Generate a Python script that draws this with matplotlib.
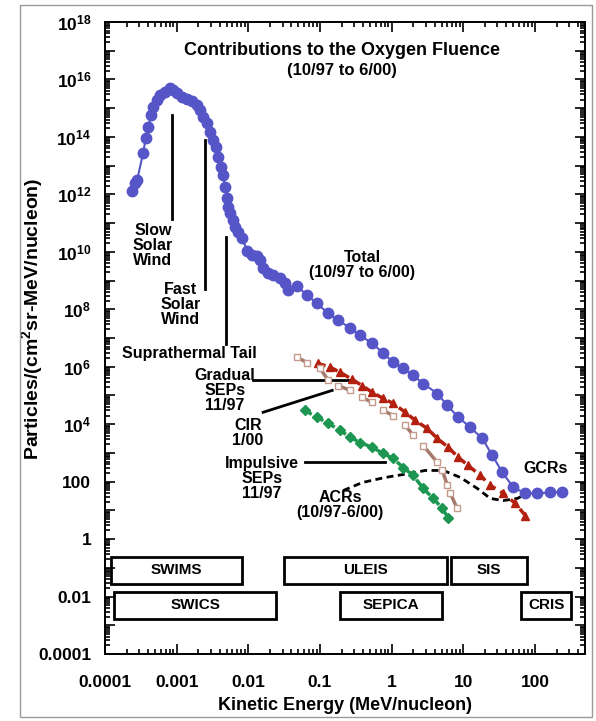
import matplotlib
matplotlib.use('Agg')
import matplotlib.pyplot as plt
from matplotlib.patches import Rectangle
from matplotlib.ticker import LogLocator, NullFormatter

plt.rcParams['font.family'] = ['Liberation Sans', 'DejaVu Sans']
plt.rcParams['font.weight'] = 'bold'
plt.rcParams['mathtext.fontset'] = 'custom'
plt.rcParams['mathtext.rm'] = 'Liberation Sans:bold'
plt.rcParams['mathtext.bf'] = 'Liberation Sans:bold'
plt.rcParams['mathtext.it'] = 'Liberation Sans:bold'

#DATA
total_e = [2.36e-4, 2.62e-4, 2.8e-4, 3.4e-4, 3.7e-4, 4.0e-4, 4.4e-4, 4.7e-4, 5.3e-4, 5.9e-4,
           6.9e-4, 8.1e-4, 8.9e-4, 1.01e-3, 1.19e-3, 1.40e-3, 1.64e-3, 1.93e-3, 2.12e-3, 2.34e-3,
           2.66e-3, 2.93e-3, 3.22e-3, 3.55e-3, 3.79e-3, 4.17e-3, 4.45e-3, 4.74e-3, 5.06e-3, 5.23e-3,
           5.57e-3, 6.13e-3, 6.55e-3, 7.21e-3, 8.2e-3, 9.6e-3, 1.13e-2, 1.33e-2, 1.46e-2, 1.61e-2,
           1.89e-2, 2.22e-2, 2.78e-2, 3.27e-2, 3.60e-2, 4.81e-2, 6.6e-2, 9.1e-2, 0.130, 0.180,
           0.264, 0.364, 0.535, 0.763, 1.05, 1.45, 2.0, 2.76, 4.33, 5.98,
           8.5, 12.5, 18.4, 25.4, 35.1, 49.9, 73.5, 108, 164, 241]
total_f = [1.3e12, 2.5e12, 3.1e12, 2.7e13, 9e13, 2.2e14, 5.8e14, 1.1e15, 1.9e15, 2.9e15,
           3.6e15, 5.0e15, 4.3e15, 3.4e15, 2.5e15, 2.1e15, 1.8e15, 1.3e15, 8.6e14, 4.9e14,
           3.0e14, 1.5e14, 7.8e13, 4.4e13, 2.0e13, 8.9e12, 4.7e12, 1.8e12, 7.4e11, 3.6e11,
           2.2e11, 1.26e11, 7.2e10, 4.8e10, 3.0e10, 1.1e10, 7.6e9, 7.1e9, 5.1e9, 2.7e9,
           1.9e9, 1.5e9, 1.2e9, 8.1e8, 4.6e8, 6.3e8, 3.1e8, 1.6e8, 7.2e7, 4.2e7,
           2.2e7, 1.24e7, 6.5e6, 3.0e6, 1.42e6, 8.7e5, 5.0e5, 2.6e5, 1.17e5, 4.5e4,
           1.75e4, 7.8e3, 3.2e3, 820, 210, 63, 39, 39, 42, 45]

grad_e = [0.0944, 0.139, 0.191, 0.282, 0.388, 0.535, 0.763, 1.05, 1.55, 2.14,
          3.14, 4.33, 6.18, 8.5, 11.7, 17.3, 23.8, 36.2, 53.2, 73.5]
grad_f = [1.3e6, 9.6e5, 6.4e5, 3.6e5, 2.2e5, 1.28e5, 7.9e4, 5.3e4, 2.6e4, 1.35e4,
          7.1e3, 3.2e3, 1.56e3, 700, 365, 165, 74, 39, 17.5, 6.6]

cir_e = [0.048, 0.066, 0.1007, 0.130, 0.180, 0.264, 0.388, 0.535, 0.763,
         1.05, 1.55, 2.0, 2.76, 4.33, 5.1, 6.0, 6.6, 8.2]
cir_f = [2.1e6, 1.4e6, 8.7e5, 3.4e5, 2.2e5, 1.5e5, 8.6e4, 5.7e4, 3.0e4,
         2.0e4, 9.1e3, 4.1e3, 1.8e3, 470, 245, 74, 39, 11.8]

imp_e = [0.062, 0.091, 0.130, 0.191, 0.264, 0.364, 0.535, 0.763, 1.05, 1.45,
         2.0, 2.76, 3.81, 5.1, 6.2]
imp_f = [3.0e4, 1.74e4, 1.07e4, 6.1e3, 3.5e3, 2.3e3, 1.56e3, 960, 640, 310,
         165, 58, 26, 11.7, 5.3]

acr_e = [0.211, 0.388, 0.814, 1.82, 2.94, 5.26, 9.1, 15.7, 23.8, 36.2, 56.7, 73.5]
acr_f = [49, 93, 140, 195, 245, 245, 140, 58, 26, 22, 26, 36]

# instrument energy coverage (MeV/nucleon)
instruments = ['SWIMS', 'SWICS', 'ULEIS', 'SEPICA', 'SIS', 'CRIS']
inst_lo = [1.21e-4, 1.34e-4, 3.16e-2, 0.191, 6.8, 64.6]
inst_hi = [8.2e-3, 2.44e-2, 5.98, 5.1, 78, 322]
inst_row = [0, 1, 0, 1, 0, 1]

BLUE = '#5555c8'
RED = '#b3200f'
GREEN = '#1c9650'
BROWN = '#a47a6c'

#FIGURE
fig = plt.figure(figsize=(5.96, 7.21), dpi=100)
ax = fig.add_axes([0.1762, 0.0929, 0.8054, 0.8766])
ax.set_xscale('log')
ax.set_yscale('log')
ax.set_xlim(1e-4, 500)
ax.set_ylim(1e-4, 1e18)

ax.plot(total_e, total_f, '-', color=BLUE, lw=1.5, marker='o', ms=7.5, mec=BLUE, mfc=BLUE, zorder=5)
ax.plot(grad_e, grad_f, color=RED, lw=2.5, ls=(0, (2.2, 1.6)), marker='^', ms=6, zorder=4)
for i in range(0, len(cir_e) - 1, 2):
    ax.plot(cir_e[i:i + 2], cir_f[i:i + 2], '-', color=BROWN, lw=2.5,
            marker='s', ms=5, mfc='white', mec='#c49a8c', mew=1, zorder=4)
ax.plot(imp_e, imp_f, color=GREEN, lw=2.5, ls=(0, (2.2, 1.6)), marker='D', ms=5, zorder=4)
ax.plot(acr_e, acr_f, color='black', lw=2, ls=(0, (2.5, 1.6)), zorder=3)

# instrument boxes
row_y = [(0.0284, 0.248), (1.71e-3, 0.0149)]
for name, lo, hi, r in zip(instruments, inst_lo, inst_hi, inst_row):
    y0, y1 = row_y[r]
    ax.add_patch(Rectangle((lo, y0), hi - lo, y1 - y0, fill=False, ec='black', lw=2))
    ax.text((lo * hi) ** 0.5, (y0 * y1) ** 0.5, name, ha='center', va='center',
            fontsize=11, fontweight='bold')

#ANNOTATIONS
kw = dict(ha='center', va='center', fontsize=11.5, fontweight='bold', linespacing=1.0)
ax.text(0.2, 1.05e17, 'Contributions to the Oxygen Fluence', ha='center', va='center',
        fontsize=13, fontweight='bold')
ax.text(0.2, 2.1e16, '(10/97 to 6/00)', ha='center', va='center', fontsize=12, fontweight='bold')

ax.text(4.68e-4, 1.6e10, 'Slow\nSolar\nWind', **kw)
ax.plot([8.6e-4, 8.6e-4], [1.4e11, 5.8e14], 'k-', lw=2)
ax.text(1.12e-3, 1.5e8, 'Fast\nSolar\nWind', **kw)
ax.plot([2.5e-3, 2.5e-3], [5e8, 7.8e13], 'k-', lw=2)
ax.text(1.49e-3, 2.9e6, 'Suprathermal Tail', **kw)
ax.plot([4.9e-3, 4.9e-3], [6e6, 3.2e10], 'k-', lw=2)
ax.text(0.389, 3.4e9, 'Total\n(10/97 to 6/00)', **kw)

ax.text(4.74e-3, 1.5e5, 'Gradual\nSEPs\n11/97', **kw)
ax.plot([0.0117, 0.282], [3.4e5, 3.4e5], 'k-', lw=2)
ax.text(9.9e-3, 4.8e3, 'CIR\n1/00', **kw)
ax.plot([0.0161, 0.148], [2.6e4, 1.5e5], 'k-', lw=2)
ax.text(0.0156, 129, 'Impulsive\nSEPs\n11/97', **kw)
ax.plot([0.062, 0.814], [500, 500], 'k-', lw=2)
ax.text(0.191, 16, 'ACRs\n(10/97-6/00)', **kw)
ax.text(140, 290, 'GCRs', **kw)

#AXES STYLE
xt = [1e-4, 1e-3, 1e-2, 0.1, 1, 10, 100]
ax.set_xticks(xt, ['0.0001', '0.001', '0.01', '0.1', '1', '10', '100'])
ax.xaxis.set_minor_locator(LogLocator(base=10, subs=range(2, 10), numticks=20))
ax.xaxis.set_minor_formatter(NullFormatter())

yt = [10.0 ** k for k in range(-4, 19)]
ylab = []
for k in range(-4, 19):
    if k % 2:
        ylab.append('')
    elif k >= 4:
        ylab.append(r'$\mathbf{10^{%d}}$' % k)
    else:
        ylab.append({2: '100', 0: '1', -2: '0.01', -4: '0.0001'}[k])
ax.set_yticks(yt, ylab)
ax.yaxis.set_minor_locator(LogLocator(base=10, subs=range(2, 10), numticks=40))
ax.yaxis.set_minor_formatter(NullFormatter())

ax.tick_params(which='both', direction='in', top=True, right=True, width=1.2)
ax.tick_params(which='major', length=7)
ax.tick_params(which='minor', length=3.5)
ax.tick_params(axis='x', which='major', pad=15, labelsize=12.5)
ax.tick_params(axis='y', which='major', pad=10, labelsize=12.5)
for s in ax.spines.values():
    s.set_linewidth(1.4)

ax.set_xlabel('Kinetic Energy (MeV/nucleon)', fontsize=13, fontweight='bold', labelpad=5)
ax.set_ylabel(r'Particles/(cm$^{\mathbf{2}}$sr-MeV/nucleon)', fontsize=14, fontweight='bold')
ax.yaxis.set_label_coords(-0.125, 0.53)

fig.add_artist(Rectangle((0.0336, 0.006), 0.96, 0.987, transform=fig.transFigure,
                         fill=False, ec='#9a9a9a', lw=1))

fig.savefig('out.png', dpi=100)
